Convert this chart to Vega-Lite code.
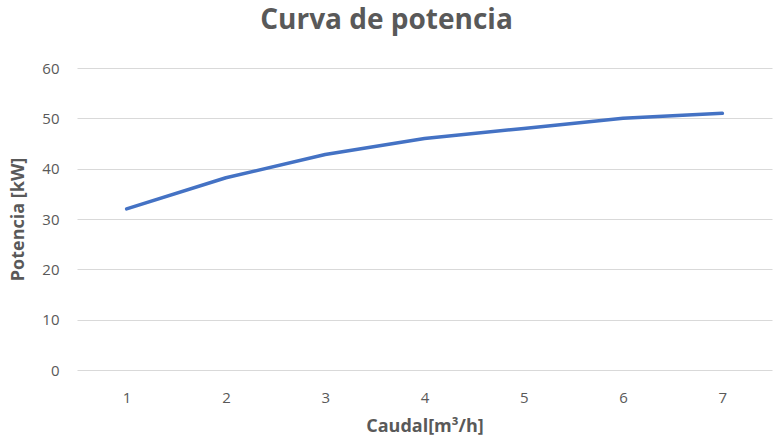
{
  "$schema": "https://vega.github.io/schema/vega-lite/v6.json",
  "width": 695,
  "height": 302,
  "autosize": {"type": "none"},
  "padding": {"left": 77, "top": 68, "right": 2, "bottom": 74},
  "background": "white",
  "title": {
    "text": "Curva de potencia",
    "font": "Open Sans",
    "fontSize": 28,
    "fontWeight": "bold",
    "color": "#595959",
    "anchor": "middle",
    "frame": "group",
    "dx": -38,
    "offset": 26
  },
  "data": {
    "values": [
      {"caudal": "1", "potencia": 32},
      {"caudal": "2", "potencia": 38.2},
      {"caudal": "3", "potencia": 42.8},
      {"caudal": "4", "potencia": 46},
      {"caudal": "5", "potencia": 48},
      {"caudal": "6", "potencia": 50},
      {"caudal": "7", "potencia": 51}
    ]
  },
  "mark": {"type": "line", "color": "#4472C4", "strokeWidth": 3.5, "strokeCap": "round", "strokeJoin": "round"},
  "encoding": {
    "x": {
      "field": "caudal",
      "type": "ordinal",
      "scale": {"type": "point", "padding": 0.5},
      "axis": {
        "title": "Caudal[m³/h]",
        "labelAngle": 0,
        "domain": false,
        "ticks": false,
        "labelPadding": 20,
        "titlePadding": 12
      }
    },
    "y": {
      "field": "potencia",
      "type": "quantitative",
      "scale": {"domain": [0, 60], "nice": false},
      "axis": {
        "title": "Potencia [kW]",
        "values": [0, 10, 20, 30, 40, 50, 60],
        "domain": false,
        "ticks": false,
        "grid": true,
        "labelPadding": 18,
        "titlePadding": 14
      }
    }
  },
  "config": {
    "view": {"stroke": null},
    "axis": {
      "labelFont": "Open Sans",
      "labelFontSize": 15,
      "labelColor": "#595959",
      "titleFont": "Open Sans",
      "titleFontSize": 18,
      "titleFontWeight": "bold",
      "titleColor": "#595959",
      "gridColor": "#D9D9D9",
      "gridWidth": 1
    }
  }
}
